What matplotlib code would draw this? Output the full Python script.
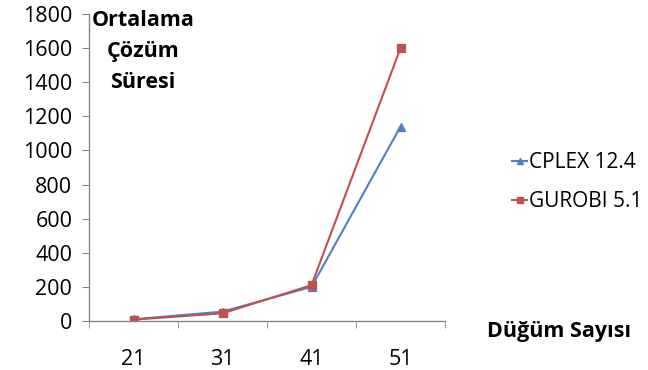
import matplotlib
matplotlib.use("Agg")
import matplotlib.pyplot as plt
from matplotlib.lines import Line2D

categories = ["21", "31", "41", "51"]
cplex = [10, 55, 200, 1140]
gurobi = [8, 45, 210, 1600]
yticks = [0, 200, 400, 600, 800, 1000, 1200, 1400, 1600, 1800]

plt.rcParams['font.family'] = ['Open Sans', 'DejaVu Sans']

W, H = 648, 370
fig = plt.figure(figsize=(W/100, H/100), dpi=100)
ax = fig.add_axes([89/W, 1-321/H, (445-89)/W, (321-14)/H])

x = list(range(len(categories)))
blue = '#4F81BD'
red = '#C0504D'
ax.plot(x, cplex, color=blue, lw=1.5, marker='^', ms=6, label='CPLEX 12.4')
ax.plot(x, gurobi, color=red, lw=1.5, marker='s', ms=5.5, label='GUROBI 5.1')

FS = 15.5
ax.set_xlim(-0.5, len(categories)-0.5)
ax.set_ylim(0, 1800)
ax.set_yticks(yticks)
ax.set_yticklabels([str(v) for v in yticks], fontsize=FS)
ax.set_xticks(x)
ax.set_xticklabels(categories, fontsize=FS)
ax.tick_params(axis='x', length=0, pad=20)
ax.set_xticks([i-0.5 for i in range(len(categories)+1)], minor=True)
ax.tick_params(axis='x', which='minor', length=5, color='#868686', direction='out')
ax.tick_params(axis='y', length=5, color='#868686', direction='out', pad=7)
for s in ['top', 'right']:
    ax.spines[s].set_visible(False)
for s in ['left', 'bottom']:
    ax.spines[s].set_color('#868686')
    ax.spines[s].set_linewidth(1)

fig.text(143/W, 1-20/H, 'Ortalama', fontsize=FS, fontweight='bold', ha='center', va='center')
fig.text(143/W, 1-52/H, 'Çözüm', fontsize=FS, fontweight='bold', ha='center', va='center')
fig.text(143/W, 1-83/H, 'Süresi', fontsize=FS, fontweight='bold', ha='center', va='center')
fig.text(487/W, 1-332/H, 'Düğüm Sayısı', fontsize=FS, fontweight='bold', ha='left', va='center')

handles = [Line2D([0], [0], color=blue, lw=1.5, marker='^', ms=5),
           Line2D([0], [0], color=red, lw=1.5, marker='s', ms=4.5)]
fig.legend(handles, ['CPLEX 12.4', 'GUROBI 5.1'], loc='center left',
           bbox_to_anchor=(502/W, 1-182/H), frameon=False, fontsize=15,
           handlelength=0.7, handletextpad=0.1, labelspacing=0.85, borderpad=0)

fig.savefig('out.png', dpi=100)
